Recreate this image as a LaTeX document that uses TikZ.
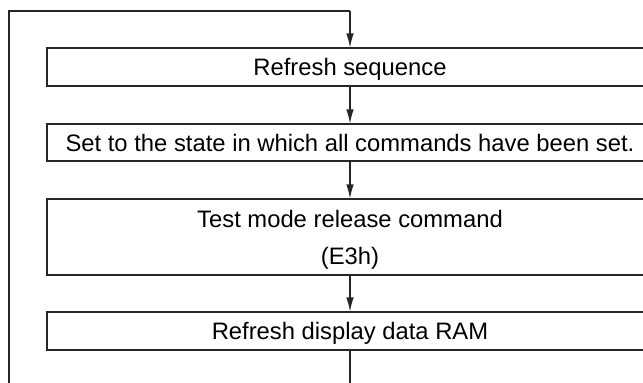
\documentclass[tikz,border=0pt]{standalone}
\usepackage{fontspec}
\setmainfont{Liberation Sans}
\usetikzlibrary{arrows.meta}
\begin{document}
\begin{tikzpicture}[x=1bp,y=-1bp,
  flowbox/.style={draw=black!85,line width=1.1bp,minimum width=606bp,inner sep=0pt,
    align=center,font=\fontsize{23.8bp}{37bp}\selectfont,text height=17bp,text depth=0pt},
  flowline/.style={draw=black!85,line width=1.1bp},
  flowarrow/.style={flowline,-{Latex[length=14bp,width=7.5bp]}}]
\clip (0,0) rectangle (643,382);
\node[flowbox,minimum height=38bp] (b1) at (350,67) {Refresh sequence};
\node[flowbox,minimum height=37bp] (b2) at (350,142.5) {Set to the state in which all commands have been set.};
\node[flowbox,minimum height=76bp,text height=54bp] (b3) at (350,237) {Test mode release command\\(E3h)};
\node[flowbox,minimum height=38bp] (b4) at (350,331) {Refresh display data RAM};
\coordinate (exit) at (350,400);
\coordinate (loopbl) at (9,400);
\coordinate (looptl) at (9,11);
\coordinate (looptr) at (350,11);
\draw[flowarrow] (b1) -- (b2);
\draw[flowarrow] (b2) -- (b3);
\draw[flowarrow] (b3) -- (b4);
\draw[flowline] (b4.south) -- (exit) -- (loopbl) -- (looptl) -- (looptr);
\draw[flowarrow] (looptr) -- (b1.north);
\end{tikzpicture}
\end{document}
